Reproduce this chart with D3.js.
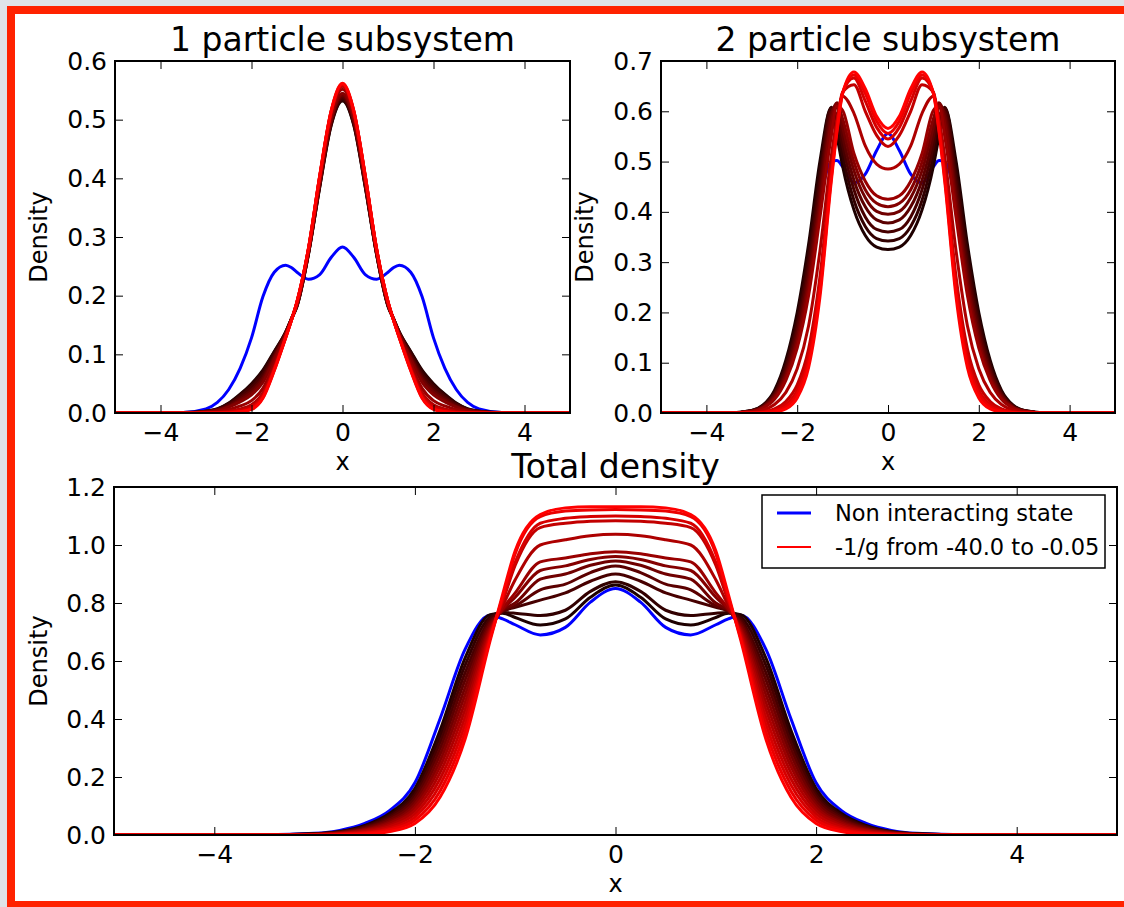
<!DOCTYPE html>
<html><head><meta charset="utf-8">
<script src="https://cdn.jsdelivr.net/npm/d3@7"></script>
<style>
body{margin:0;background:#dfe3e8;}
svg{display:block;font-family:"DejaVu Sans",sans-serif;}
</style>
</head><body>
<svg id="c" width="1124" height="907"></svg>
<script>
// ---------------- data ----------------
const xGrid = [-5, -3.5, -3, -2.75, -2.5, -2.25, -2, -1.75, -1.5, -1.25, -1.125, -1, -0.75, -0.5, -0.25, 0,
               0.25, 0.5, 0.75, 1, 1.125, 1.25, 1.5, 1.75, 2, 2.25, 2.5, 2.75, 3, 3.5, 5];
const xTicks = [-4, -2, 0, 2, 4];
const yTicksOne = [0, 0.1, 0.2, 0.3, 0.4, 0.5, 0.6];
const yTicksTwo = [0, 0.1, 0.2, 0.3, 0.4, 0.5, 0.6, 0.7];
const yTicksTotal = [0, 0.2, 0.4, 0.6, 0.8, 1.0, 1.2];
const panelTitles = ["1 particle subsystem", "2 particle subsystem", "Total density"];
const legendLabels = ["Non interacting state", "-1/g from -40.0 to -0.05"];

const onePartBlue = [0, 0.001, 0.007, 0.018, 0.04, 0.076, 0.128, 0.198, 0.24, 0.252, 0.248, 0.24, 0.228, 0.236, 0.265, 0.283, 0.265, 0.236, 0.228, 0.24, 0.248, 0.252, 0.24, 0.198, 0.128, 0.076, 0.04, 0.018, 0.007, 0.001, 0];
const onePartRed = [
 [0, 0.001, 0.003, 0.007, 0.017, 0.032, 0.05, 0.073, 0.105, 0.138, 0.16, 0.182, 0.27, 0.385, 0.49, 0.532, 0.49, 0.385, 0.27, 0.182, 0.16, 0.138, 0.105, 0.073, 0.05, 0.032, 0.017, 0.007, 0.003, 0.001, 0],
 [0, 0, 0.003, 0.007, 0.016, 0.031, 0.048, 0.071, 0.104, 0.138, 0.16, 0.182, 0.27, 0.386, 0.491, 0.533, 0.491, 0.386, 0.27, 0.182, 0.16, 0.138, 0.104, 0.071, 0.048, 0.031, 0.016, 0.007, 0.003, 0, 0],
 [0, 0, 0.003, 0.006, 0.015, 0.028, 0.044, 0.066, 0.1, 0.137, 0.16, 0.183, 0.271, 0.388, 0.494, 0.536, 0.494, 0.388, 0.271, 0.183, 0.16, 0.137, 0.1, 0.066, 0.044, 0.028, 0.015, 0.006, 0.003, 0, 0],
 [0, 0, 0.002, 0.005, 0.013, 0.025, 0.039, 0.061, 0.097, 0.136, 0.16, 0.184, 0.272, 0.39, 0.496, 0.539, 0.496, 0.39, 0.272, 0.184, 0.16, 0.136, 0.097, 0.061, 0.039, 0.025, 0.013, 0.005, 0.002, 0, 0],
 [0, 0, 0.002, 0.005, 0.011, 0.022, 0.035, 0.057, 0.094, 0.135, 0.159, 0.185, 0.273, 0.392, 0.499, 0.542, 0.499, 0.392, 0.273, 0.185, 0.159, 0.135, 0.094, 0.057, 0.035, 0.022, 0.011, 0.005, 0.002, 0, 0],
 [0, 0, 0.002, 0.004, 0.01, 0.019, 0.031, 0.052, 0.091, 0.134, 0.159, 0.185, 0.274, 0.394, 0.501, 0.545, 0.501, 0.394, 0.274, 0.185, 0.159, 0.134, 0.091, 0.052, 0.031, 0.019, 0.01, 0.004, 0.002, 0, 0],
 [0, 0, 0.001, 0.003, 0.006, 0.012, 0.021, 0.042, 0.084, 0.131, 0.159, 0.187, 0.277, 0.398, 0.506, 0.552, 0.506, 0.398, 0.277, 0.187, 0.159, 0.131, 0.084, 0.042, 0.021, 0.012, 0.006, 0.003, 0.001, 0, 0],
 [0, 0, 0.001, 0.001, 0.003, 0.007, 0.014, 0.034, 0.078, 0.13, 0.158, 0.189, 0.278, 0.401, 0.511, 0.557, 0.511, 0.401, 0.278, 0.189, 0.158, 0.13, 0.078, 0.034, 0.014, 0.007, 0.003, 0.001, 0.001, 0, 0],
 [0, 0, 0, 0.001, 0.002, 0.005, 0.011, 0.031, 0.076, 0.129, 0.158, 0.189, 0.279, 0.403, 0.512, 0.558, 0.512, 0.403, 0.279, 0.189, 0.158, 0.129, 0.076, 0.031, 0.011, 0.005, 0.002, 0.001, 0, 0, 0],
 [0, 0, 0, 0.001, 0.001, 0.003, 0.009, 0.028, 0.074, 0.129, 0.158, 0.19, 0.279, 0.404, 0.514, 0.56, 0.514, 0.404, 0.279, 0.19, 0.158, 0.129, 0.074, 0.028, 0.009, 0.003, 0.001, 0.001, 0, 0, 0],
 [0, 0, 0, 0, 0.001, 0.002, 0.007, 0.026, 0.073, 0.128, 0.157, 0.19, 0.28, 0.404, 0.514, 0.561, 0.514, 0.404, 0.28, 0.19, 0.157, 0.128, 0.073, 0.026, 0.007, 0.002, 0.001, 0, 0, 0, 0],
 [0, 0, 0, 0, 0, 0.002, 0.006, 0.025, 0.072, 0.128, 0.157, 0.19, 0.28, 0.405, 0.515, 0.562, 0.515, 0.405, 0.28, 0.19, 0.157, 0.128, 0.072, 0.025, 0.006, 0.002, 0, 0, 0, 0, 0]
];

const twoPartBlue = [0, 0, 0.004, 0.012, 0.034, 0.08, 0.155, 0.27, 0.42, 0.5, 0.502, 0.49, 0.458, 0.475, 0.522, 0.556, 0.522, 0.475, 0.458, 0.49, 0.502, 0.5, 0.42, 0.27, 0.155, 0.08, 0.034, 0.012, 0.004, 0, 0];
const twoPartRed = [
 [0, 0, 0.005, 0.016, 0.045, 0.105, 0.2, 0.335, 0.5, 0.607, 0.551, 0.491, 0.404, 0.353, 0.33, 0.325, 0.33, 0.353, 0.404, 0.491, 0.551, 0.607, 0.5, 0.335, 0.2, 0.105, 0.045, 0.016, 0.005, 0, 0],
 [0, 0, 0.005, 0.015, 0.042, 0.098, 0.188, 0.318, 0.481, 0.608, 0.571, 0.512, 0.423, 0.371, 0.347, 0.342, 0.347, 0.371, 0.423, 0.512, 0.571, 0.608, 0.481, 0.318, 0.188, 0.098, 0.042, 0.015, 0.005, 0, 0],
 [0, 0, 0.004, 0.014, 0.039, 0.091, 0.175, 0.299, 0.461, 0.605, 0.59, 0.532, 0.444, 0.39, 0.365, 0.36, 0.365, 0.39, 0.444, 0.532, 0.59, 0.605, 0.461, 0.299, 0.175, 0.091, 0.039, 0.014, 0.004, 0, 0],
 [0, 0, 0.004, 0.013, 0.036, 0.084, 0.163, 0.281, 0.441, 0.598, 0.608, 0.551, 0.463, 0.41, 0.384, 0.378, 0.384, 0.41, 0.463, 0.551, 0.608, 0.598, 0.441, 0.281, 0.163, 0.084, 0.036, 0.013, 0.004, 0, 0],
 [0, 0, 0.004, 0.012, 0.033, 0.077, 0.151, 0.264, 0.422, 0.59, 0.617, 0.569, 0.482, 0.428, 0.401, 0.395, 0.401, 0.428, 0.482, 0.569, 0.617, 0.59, 0.422, 0.264, 0.151, 0.077, 0.033, 0.012, 0.004, 0, 0],
 [0, 0, 0.003, 0.011, 0.03, 0.071, 0.14, 0.249, 0.405, 0.575, 0.615, 0.585, 0.499, 0.444, 0.417, 0.41, 0.417, 0.444, 0.499, 0.585, 0.615, 0.575, 0.405, 0.249, 0.14, 0.071, 0.03, 0.011, 0.003, 0, 0],
 [0, 0, 0.003, 0.01, 0.027, 0.065, 0.129, 0.233, 0.388, 0.55, 0.61, 0.602, 0.516, 0.461, 0.432, 0.425, 0.432, 0.461, 0.516, 0.602, 0.61, 0.55, 0.388, 0.233, 0.129, 0.065, 0.027, 0.01, 0.003, 0, 0],
 [0, 0, 0.002, 0.006, 0.017, 0.041, 0.088, 0.173, 0.322, 0.51, 0.585, 0.63, 0.596, 0.531, 0.495, 0.485, 0.495, 0.531, 0.596, 0.63, 0.585, 0.51, 0.322, 0.173, 0.088, 0.041, 0.017, 0.006, 0.002, 0, 0],
 [0, 0, 0.001, 0.003, 0.008, 0.023, 0.056, 0.127, 0.27, 0.482, 0.575, 0.638, 0.653, 0.6, 0.552, 0.53, 0.552, 0.6, 0.653, 0.638, 0.575, 0.482, 0.27, 0.127, 0.056, 0.023, 0.008, 0.003, 0.001, 0, 0],
 [0, 0, 0, 0.002, 0.006, 0.017, 0.045, 0.112, 0.254, 0.473, 0.568, 0.637, 0.666, 0.62, 0.568, 0.545, 0.568, 0.62, 0.666, 0.637, 0.568, 0.473, 0.254, 0.112, 0.045, 0.017, 0.006, 0.002, 0, 0, 0],
 [0, 0, 0, 0.001, 0.004, 0.012, 0.038, 0.101, 0.242, 0.467, 0.563, 0.636, 0.672, 0.635, 0.58, 0.556, 0.58, 0.635, 0.672, 0.636, 0.563, 0.467, 0.242, 0.101, 0.038, 0.012, 0.004, 0.001, 0, 0, 0],
 [0, 0, 0, 0.001, 0.002, 0.008, 0.03, 0.09, 0.23, 0.46, 0.558, 0.635, 0.678, 0.645, 0.59, 0.566, 0.59, 0.645, 0.678, 0.635, 0.558, 0.46, 0.23, 0.09, 0.03, 0.008, 0.002, 0.001, 0, 0, 0]
];

const totalBlue = [0, 0.001, 0.006, 0.016, 0.04, 0.085, 0.18, 0.4, 0.64, 0.758, 0.745, 0.725, 0.69, 0.716, 0.803, 0.85, 0.803, 0.716, 0.69, 0.725, 0.745, 0.758, 0.64, 0.4, 0.18, 0.085, 0.04, 0.016, 0.006, 0.001, 0];
const totalRed = [
 [0, 0, 0.004, 0.012, 0.033, 0.075, 0.16, 0.36, 0.61, 0.76, 0.765, 0.75, 0.724, 0.745, 0.82, 0.862, 0.82, 0.745, 0.724, 0.75, 0.765, 0.76, 0.61, 0.36, 0.16, 0.075, 0.033, 0.012, 0.004, 0, 0],
 [0, 0, 0.004, 0.011, 0.03, 0.069, 0.149, 0.339, 0.585, 0.752, 0.767, 0.765, 0.757, 0.775, 0.84, 0.873, 0.84, 0.775, 0.757, 0.765, 0.767, 0.752, 0.585, 0.339, 0.149, 0.069, 0.03, 0.011, 0.004, 0, 0],
 [0, 0, 0.003, 0.01, 0.028, 0.064, 0.138, 0.318, 0.559, 0.744, 0.772, 0.785, 0.81, 0.835, 0.875, 0.9, 0.875, 0.835, 0.81, 0.785, 0.772, 0.744, 0.559, 0.318, 0.138, 0.064, 0.028, 0.01, 0.003, 0, 0],
 [0, 0, 0.003, 0.009, 0.025, 0.058, 0.127, 0.297, 0.534, 0.735, 0.772, 0.79, 0.845, 0.865, 0.905, 0.928, 0.905, 0.865, 0.845, 0.79, 0.772, 0.735, 0.534, 0.297, 0.127, 0.058, 0.025, 0.009, 0.003, 0, 0],
 [0, 0, 0.003, 0.008, 0.022, 0.052, 0.116, 0.276, 0.508, 0.727, 0.775, 0.8, 0.882, 0.9, 0.93, 0.945, 0.93, 0.9, 0.882, 0.8, 0.775, 0.727, 0.508, 0.276, 0.116, 0.052, 0.022, 0.008, 0.003, 0, 0],
 [0, 0, 0.002, 0.007, 0.019, 0.046, 0.105, 0.255, 0.483, 0.719, 0.777, 0.82, 0.912, 0.928, 0.95, 0.96, 0.95, 0.928, 0.912, 0.82, 0.777, 0.719, 0.483, 0.255, 0.105, 0.046, 0.019, 0.007, 0.002, 0, 0],
 [0, 0, 0.002, 0.006, 0.017, 0.041, 0.095, 0.235, 0.457, 0.711, 0.78, 0.835, 0.942, 0.955, 0.97, 0.977, 0.97, 0.955, 0.942, 0.835, 0.78, 0.711, 0.457, 0.235, 0.095, 0.041, 0.017, 0.006, 0.002, 0, 0],
 [0, 0, 0.001, 0.005, 0.014, 0.035, 0.084, 0.214, 0.432, 0.703, 0.79, 0.88, 1.0, 1.018, 1.032, 1.037, 1.032, 1.018, 1.0, 0.88, 0.79, 0.703, 0.432, 0.214, 0.084, 0.035, 0.014, 0.005, 0.001, 0, 0],
 [0, 0, 0.001, 0.004, 0.011, 0.029, 0.073, 0.193, 0.406, 0.695, 0.805, 0.93, 1.06, 1.075, 1.082, 1.084, 1.082, 1.075, 1.06, 0.93, 0.805, 0.695, 0.406, 0.193, 0.073, 0.029, 0.011, 0.004, 0.001, 0, 0],
 [0, 0, 0.001, 0.003, 0.008, 0.023, 0.062, 0.172, 0.381, 0.686, 0.812, 0.94, 1.075, 1.092, 1.098, 1.1, 1.098, 1.092, 1.075, 0.94, 0.812, 0.686, 0.381, 0.172, 0.062, 0.023, 0.008, 0.003, 0.001, 0, 0],
 [0, 0, 0, 0.002, 0.006, 0.018, 0.051, 0.151, 0.355, 0.678, 0.82, 0.97, 1.098, 1.117, 1.121, 1.122, 1.121, 1.117, 1.098, 0.97, 0.82, 0.678, 0.355, 0.151, 0.051, 0.018, 0.006, 0.002, 0, 0, 0],
 [0, 0, 0, 0.001, 0.003, 0.012, 0.04, 0.13, 0.33, 0.67, 0.83, 0.98, 1.105, 1.128, 1.132, 1.132, 1.132, 1.128, 1.105, 0.98, 0.83, 0.67, 0.33, 0.13, 0.04, 0.012, 0.003, 0.001, 0, 0, 0]
];

// ---------------- drawing ----------------
const svg = d3.select("#c");
svg.append("rect").attr("width", 1124).attr("height", 907).attr("fill", "#dfe3e8");
svg.append("rect").attr("x", 11).attr("y", 10).attr("width", 1200).attr("height", 895)
  .attr("fill", "#ffffff").attr("stroke", "#ff2200").attr("stroke-width", 8);

const TICK_FONT = 25, LABEL_FONT = 24, TITLE_FONT = 33, LEGEND_FONT = 22.5;
const redColor = k => d3.rgb(Math.round(30 + 225 * k / (onePartRed.length - 1)), 0, 0).toString();
const fmtX = d => d < 0 ? "\u2212" + Math.abs(d) : String(d);
const fmtY = d3.format(".1f");

function styleAxis(g) {
  g.select(".domain").remove();
  g.selectAll(".tick line").attr("stroke", "#000").attr("stroke-width", 1);
  g.selectAll("text").attr("fill", "#000").attr("font-size", TICK_FONT)
    .attr("font-family", "DejaVu Sans");
}

function panel(cfg) {
  const x = d3.scaleLinear().domain([-5, 5]).range([cfg.x0, cfg.x1]);
  const y = d3.scaleLinear().domain([0, cfg.ymax]).range([cfg.y1, cfg.y0]);
  const g = svg.append("g");
  const clipId = "clip" + cfg.id;
  svg.append("clipPath").attr("id", clipId).append("rect")
    .attr("x", cfg.x0).attr("y", cfg.y0).attr("width", cfg.x1 - cfg.x0).attr("height", cfg.y1 - cfg.y0);
  const line = d3.line().x((d, i) => x(xGrid[i])).y(d => y(d)).curve(d3.curveMonotoneX);
  const lg = g.append("g").attr("clip-path", `url(#${clipId})`);
  lg.append("path").attr("d", line(cfg.blue)).attr("fill", "none")
    .attr("stroke", "#0000ff").attr("stroke-width", 3);
  cfg.red.forEach((arr, k) => {
    lg.append("path").attr("d", line(arr)).attr("fill", "none")
      .attr("stroke", redColor(k)).attr("stroke-width", 3);
  });

  g.append("g").attr("transform", `translate(0,${cfg.y1})`)
    .call(d3.axisBottom(x).tickValues(xTicks).tickSize(-8).tickPadding(10.5).tickFormat(fmtX)).call(styleAxis);
  g.append("g").attr("transform", `translate(0,${cfg.y0})`)
    .call(d3.axisTop(x).tickValues(xTicks).tickSize(-8).tickFormat("")).call(styleAxis);
  g.append("g").attr("transform", `translate(${cfg.x0},0)`)
    .call(d3.axisLeft(y).tickValues(cfg.yTicks).tickSize(-8).tickPadding(8).tickFormat(fmtY)).call(styleAxis);
  g.append("g").attr("transform", `translate(${cfg.x1},0)`)
    .call(d3.axisRight(y).tickValues(cfg.yTicks).tickSize(-8).tickFormat("")).call(styleAxis);

  g.append("rect").attr("x", cfg.x0).attr("y", cfg.y0)
    .attr("width", cfg.x1 - cfg.x0).attr("height", cfg.y1 - cfg.y0)
    .attr("fill", "none").attr("stroke", "#000").attr("stroke-width", 2);

  g.append("text").attr("x", (cfg.x0 + cfg.x1) / 2).attr("y", cfg.titleY)
    .attr("text-anchor", "middle").attr("font-size", TITLE_FONT).attr("fill", "#000").text(cfg.title);
  g.append("text").attr("x", (cfg.x0 + cfg.x1) / 2).attr("y", cfg.y1 + 57)
    .attr("text-anchor", "middle").attr("font-size", LABEL_FONT).attr("fill", "#000").text("x");
  g.append("text").attr("transform", `translate(${cfg.ylabX},${(cfg.y0 + cfg.y1) / 2}) rotate(-90)`)
    .attr("text-anchor", "middle").attr("font-size", LABEL_FONT).attr("fill", "#000").text("Density");
  return {x, y, g};
}

panel({id: 1, x0: 115, x1: 570, y0: 61, y1: 413, ymax: 0.6, yTicks: yTicksOne,
       blue: onePartBlue, red: onePartRed, title: panelTitles[0], titleY: 51, ylabX: 47});
panel({id: 2, x0: 661, x1: 1115, y0: 61, y1: 413, ymax: 0.7, yTicks: yTicksTwo,
       blue: twoPartBlue, red: twoPartRed, title: panelTitles[1], titleY: 51, ylabX: 593});
panel({id: 3, x0: 114, x1: 1117, y0: 487, y1: 835, ymax: 1.2, yTicks: yTicksTotal,
       blue: totalBlue, red: totalRed, title: panelTitles[2], titleY: 478, ylabX: 47});

// legend
const lg = svg.append("g");
lg.append("rect").attr("x", 762).attr("y", 495).attr("width", 343).attr("height", 73)
  .attr("fill", "#fff").attr("stroke", "#000").attr("stroke-width", 1.5);
const legendColors = ["#0000ff", "#ff0000"];
const legendWidths = [3, 2];
legendLabels.forEach((lab, i) => {
  const yy = 513 + i * 34;
  lg.append("line").attr("x1", 777).attr("x2", 811).attr("y1", yy).attr("y2", yy)
    .attr("stroke", legendColors[i]).attr("stroke-width", legendWidths[i]);
  lg.append("text").attr("x", 835).attr("y", yy + 8).attr("font-size", LEGEND_FONT)
    .attr("fill", "#000").text(lab);
});
</script>
</body></html>
